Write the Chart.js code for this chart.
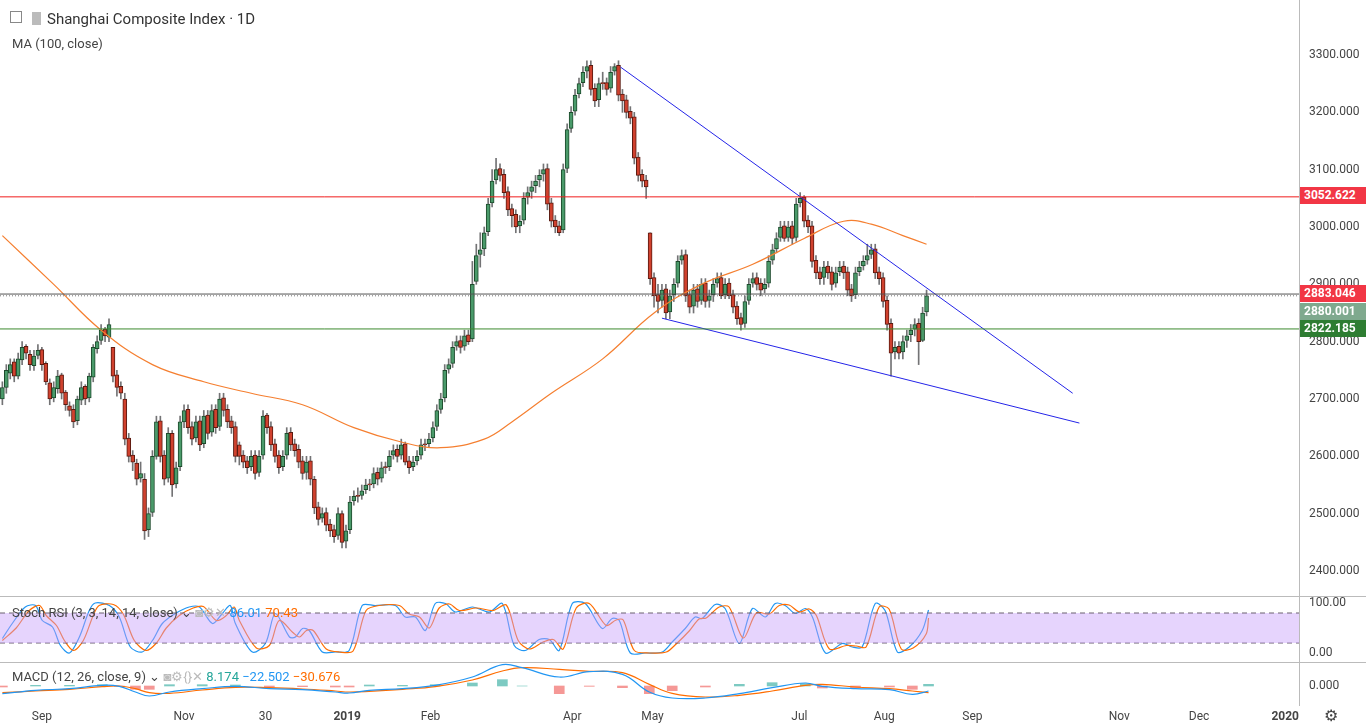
<!DOCTYPE html>
<html><head><meta charset="utf-8">
<script src="https://cdn.jsdelivr.net/npm/chart.js@4.4.1/dist/chart.umd.min.js"></script>
<style>
body{margin:0;background:#fff;font-family:Roboto,"Noto Sans",sans-serif;overflow:hidden}
#wrap{position:relative;width:1366px;height:726px}
canvas{position:absolute;left:0}
.ov{position:absolute;font-size:13px;color:#444;white-space:nowrap}
.tag{position:absolute;left:1300px;width:62px;height:17px;line-height:17px;font-size:12px;font-weight:bold;color:#fff;padding-left:4px}
.sep{position:absolute;left:0;width:1366px;height:1px;background:#bbb}
</style></head><body>
<div id="wrap">
<canvas id="c1" style="top:0"></canvas>
<canvas id="c2" style="top:597px"></canvas>
<canvas id="c3" style="top:663px"></canvas>
<div class="sep" style="top:596px"></div>
<div class="sep" style="top:662px"></div>
<div class="ov" style="left:10px;top:10px;font-size:15px;color:#333"><span style="display:inline-block;width:10px;height:10px;border:1px solid #888;margin-right:10px;vertical-align:1px"></span><span style="display:inline-block;width:9px;height:13px;background:#bbb;margin-right:6px;vertical-align:-1px"></span>Shanghai Composite Index · 1D</div>
<div class="ov" style="left:12px;top:36px">MA (100, close)</div>
<div class="ov" style="left:12px;top:605px">Stoch RSI (3, 3, 14, 14, close) ⌄ <span style="color:#bbb">◙⚙✕</span> <span style="color:#2196f3">86.01</span> <span style="color:#ff6d00">70.43</span></div>
<div class="ov" style="left:12px;top:669px">MACD (12, 26, close, 9) ⌄ <span style="color:#bbb">◙⚙{}✕</span> <span style="color:#26a69a">8.174</span> <span style="color:#2196f3">−22.502</span> <span style="color:#ff6d00">−30.676</span></div>
<div class="tag" style="top:187px;background:#f23645">3052.622</div>
<div class="tag" style="top:285px;background:#f23645">2883.046</div>
<div class="tag" style="top:303px;background:#7fa98e">2880.001</div>
<div class="tag" style="top:320px;background:#2e7d32">2822.185</div>
<div class="ov" style="left:1324px;top:706px;font-size:16px">⚙</div>
</div>
<script>
const opens=[2700,2720,2745,2765,2740,2768,2792,2778,2758,2776,2786,2762,2728,2702,2718,2742,2712,2688,2682,2662,2698,2722,2702,2738,2788,2802,2822,2808,2790,2742,2722,2700,2632,2602,2588,2562,2560,2472,2502,2600,2662,2602,2562,2640,2552,2582,2660,2682,2652,2632,2662,2622,2672,2642,2682,2652,2702,2682,2662,2652,2620,2602,2592,2582,2602,2572,2602,2672,2652,2622,2602,2582,2602,2642,2622,2612,2592,2572,2592,2560,2512,2492,2502,2482,2472,2462,2500,2452,2472,2522,2532,2532,2542,2552,2552,2572,2562,2582,2582,2602,2612,2602,2622,2592,2582,2592,2602,2622,2622,2632,2652,2682,2702,2752,2762,2792,2802,2792,2812,2805,2905,2952,2962,2992,3042,3082,3102,3092,3062,3032,3022,3002,3012,3052,3062,3072,3082,3092,3102,3042,3012,3002,2995,3102,3172,3202,3232,3252,3272,3282,3242,3222,3252,3252,3242,3272,3282,3232,3222,3202,3192,3122,3092,3082,2990,2912,2882,2872,2892,2852,2882,2902,2942,2952,2882,2862,2892,2872,2902,2872,2882,2902,2912,2882,2902,2882,2862,2842,2832,2872,2902,2912,2902,2892,2902,2942,2962,2982,3002,2982,3002,2982,3042,3052,3012,3002,2942,2922,2912,2932,2922,2902,2922,2932,2922,2892,2882,2922,2932,2942,2952,2962,2922,2912,2872,2832,2782,2792,2782,2802,2812,2822,2832,2802,2852];
const closes=[2720,2750,2760,2740,2770,2790,2780,2760,2775,2785,2760,2730,2700,2720,2740,2710,2690,2680,2660,2700,2720,2700,2740,2790,2800,2820,2810,2830,2740,2720,2710,2630,2600,2590,2560,2570,2470,2500,2600,2660,2600,2560,2640,2550,2580,2660,2680,2650,2630,2660,2620,2670,2640,2680,2650,2700,2680,2660,2650,2600,2600,2590,2580,2600,2570,2600,2670,2650,2620,2600,2580,2600,2640,2620,2610,2590,2570,2590,2560,2510,2490,2500,2480,2470,2460,2500,2450,2470,2520,2530,2530,2540,2550,2550,2570,2560,2580,2580,2600,2610,2600,2620,2590,2580,2590,2600,2620,2620,2630,2650,2680,2700,2750,2760,2790,2800,2790,2810,2800,2900,2950,2960,2990,3040,3080,3100,3090,3060,3030,3020,3000,3010,3050,3060,3070,3080,3090,3100,3040,3010,3000,2990,3100,3170,3200,3230,3250,3270,3280,3240,3220,3250,3250,3240,3270,3280,3230,3220,3200,3190,3120,3090,3080,3070,2910,2880,2870,2890,2850,2880,2900,2940,2950,2880,2860,2890,2870,2900,2870,2880,2900,2910,2880,2900,2880,2860,2840,2830,2870,2900,2910,2900,2890,2900,2940,2960,2980,3000,2980,3000,2980,3040,3050,3010,3000,2940,2920,2910,2930,2920,2900,2920,2930,2920,2890,2880,2920,2930,2940,2950,2960,2920,2910,2870,2830,2780,2790,2780,2800,2810,2820,2830,2800,2850,2880];
const highs=[2730,2760,2770,2770,2780,2800,2795,2785,2785,2795,2790,2765,2735,2730,2750,2745,2715,2695,2690,2705,2730,2725,2745,2795,2810,2830,2825,2840,2790,2750,2730,2710,2640,2610,2595,2590,2570,2510,2610,2670,2670,2610,2650,2645,2590,2670,2690,2690,2660,2670,2670,2680,2680,2690,2690,2710,2710,2690,2670,2660,2625,2610,2600,2610,2610,2610,2680,2675,2660,2630,2610,2610,2650,2650,2630,2620,2600,2600,2600,2565,2520,2510,2510,2490,2480,2510,2505,2480,2530,2540,2545,2550,2560,2560,2580,2580,2590,2590,2610,2620,2620,2630,2625,2600,2600,2610,2630,2630,2640,2660,2690,2710,2760,2770,2800,2810,2810,2820,2820,2940,2970,2990,3000,3050,3100,3120,3110,3100,3070,3040,3030,3020,3060,3070,3080,3090,3100,3110,3110,3050,3020,3010,3110,3180,3210,3240,3260,3280,3290,3290,3250,3260,3270,3260,3280,3285,3290,3240,3230,3210,3200,3130,3100,3090,2990,2920,2900,2900,2900,2890,2910,2950,2960,2960,2890,2900,2900,2910,2910,2890,2910,2920,2920,2910,2910,2890,2870,2850,2880,2910,2920,2920,2910,2910,2950,2970,2990,3010,3010,3010,3010,3050,3060,3055,3020,3010,2950,2930,2940,2940,2930,2930,2940,2940,2930,2900,2930,2940,2950,2970,2970,2970,2930,2920,2880,2840,2800,2800,2810,2820,2830,2840,2840,2860,2890];
const lows=[2690,2710,2735,2730,2735,2760,2770,2750,2750,2770,2750,2725,2690,2695,2710,2700,2680,2670,2650,2655,2690,2690,2695,2730,2780,2795,2800,2800,2730,2705,2700,2620,2590,2575,2550,2555,2455,2460,2495,2595,2590,2550,2555,2530,2545,2575,2650,2640,2620,2625,2610,2615,2630,2635,2640,2645,2670,2650,2640,2590,2585,2580,2570,2575,2560,2565,2595,2640,2610,2590,2570,2575,2595,2610,2600,2580,2560,2560,2550,2500,2480,2485,2470,2460,2450,2455,2440,2440,2465,2515,2520,2525,2535,2540,2545,2550,2555,2570,2575,2595,2590,2595,2585,2570,2575,2585,2595,2610,2615,2625,2645,2675,2695,2745,2755,2785,2780,2785,2795,2800,2900,2930,2950,2985,3035,3075,3080,3050,3020,3000,2990,2990,3005,3040,3050,3060,3070,3080,3030,3000,2990,2985,2990,3095,3165,3195,3225,3245,3260,3230,3210,3210,3240,3230,3235,3265,3220,3200,3190,3180,3110,3080,3070,3050,2900,2860,2850,2860,2840,2840,2870,2895,2935,2870,2850,2850,2860,2865,2860,2860,2870,2895,2875,2875,2875,2850,2830,2820,2825,2865,2895,2890,2880,2885,2895,2935,2955,2975,2975,2975,2970,2975,3035,3000,2990,2930,2910,2900,2900,2910,2890,2895,2915,2910,2880,2870,2875,2915,2925,2935,2945,2910,2900,2860,2820,2740,2770,2770,2770,2790,2800,2810,2760,2800,2845];
const maIdx=[0,13,25,38,51,63,76,89,101,111,122,129,139,152,165,177,190,203,213,220,228,234];
const maVal=[2985,2900,2820,2760,2730,2710,2690,2650,2625,2615,2630,2660,2710,2770,2850,2900,2935,2980,3010,3005,2985,2970];
const levels={red:3052.622,last:2883.046,prev:2880.001,green:2822.185};
const trendUpper=[[156.5,3279],[271,2710]];
const trendLower=[[167,2841],[272.7,2658]];
const kX=[0,2.5,5.8,8.4,10.1,12.7,14.7,17,19.5,22,23.5,27.1,29.6,32.4,35.4,38,40.5,43.8,47.3,49.9,53.2,55.7,57.7,59,63.3,66.6,69.1,72.7,74.2,76,77.7,81,84.3,87.8,91.1,94.4,99.5,102,104.6,107.1,109.6,112.2,114.7,119,123.3,126.6,129.6,132.4,135.9,138.5,141,144.3,147.6,151.9,154.4,156.2,159,162.8,167.1,169.6,172.9,175.4,177.2,180.5,183,186.6,189.9,193.2,195.7,198.2,200.8,203.3,205.1,208.4,212.7,215.2,217.7,221,223.5,226.6,229.6,232.9,234.5];
const kV=[29,59,92,95,65,52,15,0,32,85,100,95,72,12,2,25,59,79,92,92,59,79,95,59,2,19,79,32,32,49,45,2,2,5,95,95,95,72,72,45,99,99,82,92,82,99,15,5,27,27,5,99,99,49,69,65,0,0,2,22,49,72,69,97,89,19,89,72,99,95,79,89,72,0,19,12,12,99,85,2,12,45,86];
const dX=[0,3.5,6.8,9.4,11.1,13.7,15.7,18,20.5,23,24.5,28.1,30.6,33.4,36.4,39,41.5,44.8,48.3,50.9,54.2,56.7,58.7,60,64.3,67.6,70.1,73.7,75.2,77,78.7,82,85.3,88.8,92.1,95.4,100.5,103,105.6,108.1,110.6,113.2,115.7,120,124.3,127.6,130.6,133.4,136.9,139.5,142,145.3,148.6,152.9,155.4,157.2,160,163.8,168.1,170.6,173.9,176.4,178.2,181.5,184,187.6,190.9,194.2,196.7,199.2,201.8,204.3,206.1,209.4,213.7,216.2,218.7,222,224.5,227.6,230.6,233.9,234.5];
const dV=[25,50,85,95,75,55,25,5,25,75,95,97,78,25,5,20,50,75,90,93,65,75,92,65,10,15,65,40,32,45,45,8,2,4,85,95,95,78,72,50,90,98,85,90,85,96,25,8,22,27,8,90,99,55,66,66,5,0,2,18,44,68,70,92,92,30,80,78,95,96,82,88,75,8,15,14,12,92,88,8,10,38,70];
const mX=[0,8.4,17,25.3,29.6,33.7,37.2,42.3,50.6,59,67.6,76,84.3,87.8,92.9,101.3,109.6,119,126.6,131.6,141,148.6,157,163.8,169.6,178,186.6,194.9,203.3,207.6,216,224.6,230.4,234.5];
const mMacd=[-23,-13,-8,2,-1,-18,-30,-18,-8,-1,-8,-11,-18,-21,-13,-8,2,27,64,55,27,43,35,-18,-36,-36,-23,-5,9,-1,-8,-11,-25,-15];
const mSig=[-20,-15,-10,-2,0,-8,-20,-22,-12,-4,-5,-9,-15,-18,-16,-10,-2,18,45,55,50,44,40,5,-22,-33,-28,-15,2,5,-3,-8,-15,-20];
const mHist=[-3,2,2,4,-1,-10,-10,4,4,3,-3,-2,-3,-3,3,2,4,9,19,0,-23,-1,-5,-23,-14,-3,5,10,7,-6,-5,-3,-10,5];
const xTicks=[[10,'Sep'],[46,'Nov'],[66.6,'30'],[87.3,'2019'],[108.4,'Feb'],[144.3,'Apr'],[164.6,'May'],[201.8,'Jul'],[223.3,'Aug'],[245.6,'Sep'],[282.8,'Nov'],[303,'Dec'],[324.8,'2020']];

const XMIN=-0.6,XMAX=328.3;
const FF='Roboto, "Noto Sans", sans-serif';
const AXES={c1:{vals:[2400,2500,2600,2700,2800,2900,3000,3100,3200,3300],dec:3,xt:false},c2:{vals:[0,100],dec:2,xt:false},c3:{vals:[0],dec:3,xt:true}};
const labelPlugin={id:'lbl',afterDraw(ch){
  const cfg=AXES[ch.canvas.id];const ctx=ch.ctx,a=ch.chartArea;ctx.save();ctx.fillStyle='#444';ctx.font='12px '+FF;ctx.textBaseline='middle';ctx.textAlign='left';
  const y=ch.scales.y;cfg.vals.forEach(v=>ctx.fillText(v.toFixed(cfg.dec),a.right+10,y.getPixelForValue(v)));
  if(cfg.xt){const x=ch.scales.x;ctx.textAlign='center';
    xTicks.forEach(t=>{ctx.font=(/^20/.test(t[1])?'bold ':'')+'12px '+FF;ctx.fillText(t[1],x.getPixelForValue(t[0]),a.bottom+12)});}
  ctx.restore();}};
function xAxis(h){return {type:'linear',offset:false,min:XMIN,max:XMAX,grid:{display:false},border:{display:false},ticks:{display:false},afterFit:a=>{a.height=h}}}
function yAxis(min,max){return {type:'linear',position:'right',min,max,grid:{display:false},border:{display:true,color:'#bbb'},ticks:{display:false},afterFit:a=>{a.width=67}}}
function opts(xh,ymin,ymax){return {responsive:false,animation:false,layout:{padding:0},
  plugins:{legend:{display:false},tooltip:{enabled:false}},scales:{x:xAxis(xh),y:yAxis(ymin,ymax)}}}
function mk(id,h){const c=document.getElementById(id);c.width=1366;c.height=h;return c}

const up=closes.map((c,i)=>c>=opens[i]);
const hline=(v,col,dash)=>({type:'line',data:[{x:XMIN,y:v},{x:XMAX,y:v}],borderColor:col,borderWidth:1,borderDash:dash||[],pointRadius:0,order:0});
const tline=(pts)=>({type:'line',data:pts.map(p=>({x:p[0],y:p[1]})),borderColor:'#2424e8',borderWidth:1,pointRadius:0,order:0});

new Chart(mk('c1',597),{type:'bar',plugins:[labelPlugin],data:{datasets:[
  {data:closes.map((c,i)=>({x:i,y:[lows[i],highs[i]]})),backgroundColor:'#737375',barThickness:1,grouped:false,order:3},
  {data:closes.map((c,i)=>({x:i,y:[opens[i],c]})),backgroundColor:up.map(u=>u?'#4a9a6a':'#d0412e'),borderColor:up.map(u=>u?'#1d4a2c':'#5a1a10'),borderWidth:1,borderSkipped:false,barThickness:4,grouped:false,order:2,minBarLength:1},
  {type:'line',data:maIdx.map((x,i)=>({x,y:maVal[i]})),borderColor:'#f57f30',borderWidth:1.2,pointRadius:0,tension:0.4,order:1},
  hline(levels.red,'#f01c1c'),hline(levels.last,'#555'),hline(levels.prev,'#777',[1,2]),hline(levels.green,'#3c8a2e'),
  tline(trendUpper),tline(trendLower)
]},options:opts(0,2354.6,3396)});

new Chart(mk('c2',66),{type:'line',plugins:[labelPlugin],data:{datasets:[
  {data:[{x:XMIN,y:80},{x:XMAX,y:80}],borderColor:'#6a6070',borderWidth:1,borderDash:[5,4],pointRadius:0,fill:'+1',backgroundColor:'rgba(200,160,250,0.45)'},
  {data:[{x:XMIN,y:20},{x:XMAX,y:20}],borderColor:'#6a6070',borderWidth:1,borderDash:[5,4],pointRadius:0,fill:false},
  {data:dX.map((x,i)=>({x,y:dV[i]})),borderColor:'#ff6d00',borderWidth:1.2,pointRadius:0,tension:0.3},
  {data:kX.map((x,i)=>({x,y:kV[i]})),borderColor:'#2196f3',borderWidth:1.2,pointRadius:0,tension:0.3}
]},options:opts(0,-20,112)});

new Chart(mk('c3',63),{type:'bar',plugins:[labelPlugin],data:{datasets:[
  {data:mX.map((x,i)=>({x,y:mHist[i]})),backgroundColor:mHist.map(v=>v>=0?'rgba(38,166,154,0.6)':'rgba(239,83,80,0.6)'),barThickness:10,order:2},
  {type:'line',data:mX.map((x,i)=>({x,y:mSig[i]})),borderColor:'#ff6d00',borderWidth:1.2,pointRadius:0,tension:0.4,order:1},
  {type:'line',data:mX.map((x,i)=>({x,y:mMacd[i]})),borderColor:'#2196f3',borderWidth:1.2,pointRadius:0,tension:0.4,order:0}
]},options:opts(21,-57,69)});
</script></body></html>
